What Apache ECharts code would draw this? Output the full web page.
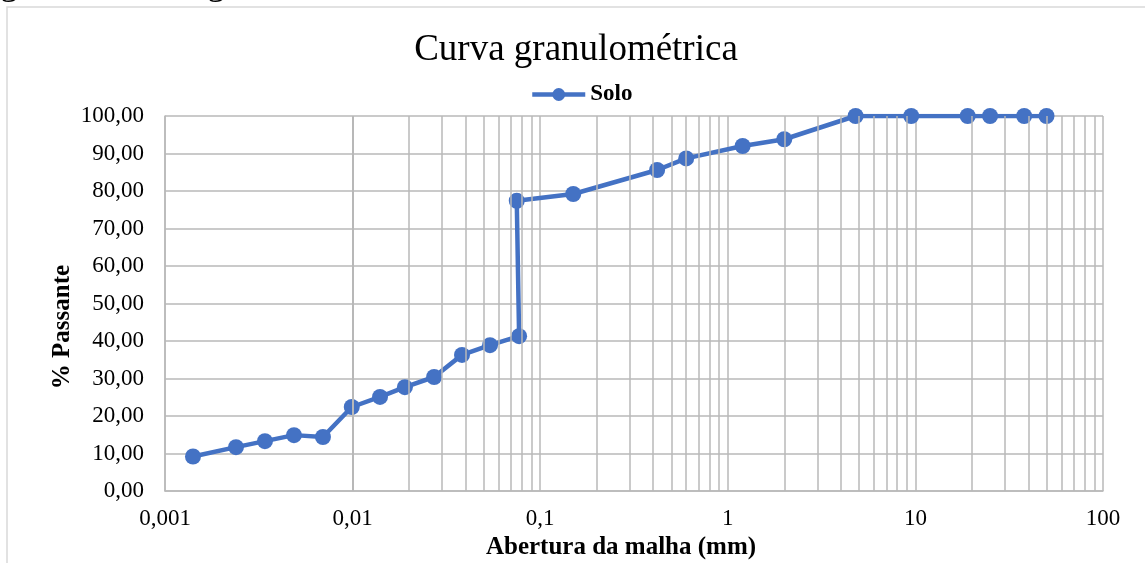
<!DOCTYPE html>
<html>
<head>
<meta charset="utf-8">
<script src="https://cdn.jsdelivr.net/npm/echarts@6/dist/echarts.min.js"></script>
<style>
  html, body { margin: 0; padding: 0; background: #fff; }
  #chart { width: 1145px; height: 563px; }
</style>
</head>
<body>
<div id="chart"></div>
<script>
// Sieve / sedimentation openings (mm) and percent passing for the soil sample
const aberturas = [0.00141, 0.00239, 0.00341, 0.00487, 0.00695, 0.0099, 0.014, 0.019, 0.0272, 0.0383, 0.054, 0.0772,
                   0.075, 0.15, 0.42, 0.6, 1.2, 2.0, 4.8, 9.5, 19, 25, 38, 50];
const passante = [9.2, 11.7, 13.3, 14.9, 14.4, 22.4, 25.1, 27.7, 30.4, 36.3, 38.9, 41.3,
                  77.4, 79.2, 85.6, 88.7, 92.0, 93.8, 100, 100, 100, 100, 100, 100];
const xTickLabels = ['0,001', '0,01', '0,1', '1', '10', '100'];
const yTicks = [0, 10, 20, 30, 40, 50, 60, 70, 80, 90, 100];

const serif = '"Liberation Serif", "Times New Roman", serif';
const gridColor = '#b9b9b9';
const gridWidth = 1.5;
const blue = '#4472C4';

// Minor log grid lines (2..9 within each decade)
const minorLines = [];
for (let e = -3; e <= 1; e++) {
  for (let m = 2; m <= 9; m++) minorLines.push({ xAxis: m * Math.pow(10, e) });
}

const chart = echarts.init(document.getElementById('chart'), null, { renderer: 'canvas' });
chart.setOption({
  animation: false,
  backgroundColor: '#fff',
  title: {
    text: 'Curva granulométrica',
    left: 571,
    textAlign: 'center',
    top: 27,
    textStyle: { fontFamily: serif, fontSize: 37, fontWeight: 'normal', color: '#000' }
  },
  legend: {
    data: ['Solo'],
    left: 525,
    top: 78,
    itemWidth: 53,
    itemHeight: 16,
    itemGap: 10,
    lineStyle: { width: 4.5 },
    textStyle: { fontFamily: serif, fontSize: 23, fontWeight: 'bold', color: '#000' }
  },
  grid: { left: 165, right: 42, top: 116, bottom: 72, containLabel: false },
  xAxis: {
    type: 'log',
    logBase: 10,
    min: 0.001,
    max: 100,
    axisLine: { show: true, lineStyle: { color: gridColor, width: gridWidth } },
    axisTick: { show: false },
    splitLine: { show: true, lineStyle: { color: gridColor, width: gridWidth } },
    axisLabel: {
      margin: 16,
      fontFamily: serif, fontSize: 23, color: '#000',
      formatter: v => xTickLabels[Math.round(Math.log10(v)) + 3] || ''
    }
  },
  yAxis: {
    type: 'value',
    min: yTicks[0],
    max: yTicks[yTicks.length - 1],
    interval: 10,
    axisLine: { show: true, lineStyle: { color: gridColor, width: gridWidth } },
    axisTick: { show: false },
    splitLine: { show: true, lineStyle: { color: gridColor, width: gridWidth } },
    axisLabel: {
      margin: 21,
      fontFamily: serif, fontSize: 23, color: '#000',
      formatter: v => v.toFixed(2).replace('.', ',')
    }
  },
  series: [
    {
      type: 'line',
      name: 'grade',
      data: [],
      z: 1,
      markLine: {
        silent: true,
        symbol: ['none', 'none'],
        label: { show: false },
        lineStyle: { type: 'solid', color: gridColor, width: gridWidth },
        emphasis: { disabled: true },
        data: minorLines
      }
    },
    {
      type: 'line',
      name: 'Solo',
      z: 3,
      data: aberturas.map((a, i) => [a, passante[i]]),
      symbol: 'circle',
      symbolSize: 16,
      lineStyle: { color: blue, width: 4.5 },
      itemStyle: { color: blue },
      emphasis: { disabled: true }
    }
  ],
  graphic: [
    {
      type: 'rect',
      silent: true,
      shape: { x: 7, y: 7, width: 1200, height: 700 },
      style: { fill: 'none', stroke: '#d9d9d9', lineWidth: 1.5 }
    },
    {
      type: 'text',
      silent: true,
      x: -30, y: 3,
      style: { text: 'Figura 4: Curva granulométrica do solo.', font: '36px ' + serif, fill: '#000', textVerticalAlign: 'bottom' }
    },
    {
      type: 'text',
      silent: true,
      x: 63, y: 327,
      rotation: Math.PI / 2,
      style: { text: '% Passante', font: 'bold 25px ' + serif, fill: '#000', textAlign: 'center', textVerticalAlign: 'middle' }
    },
    {
      type: 'text',
      silent: true,
      x: 621, y: 548,
      style: { text: 'Abertura da malha (mm)', font: 'bold 25px ' + serif, fill: '#000', textAlign: 'center', textVerticalAlign: 'middle' }
    }
  ]
});
</script>
</body>
</html>
